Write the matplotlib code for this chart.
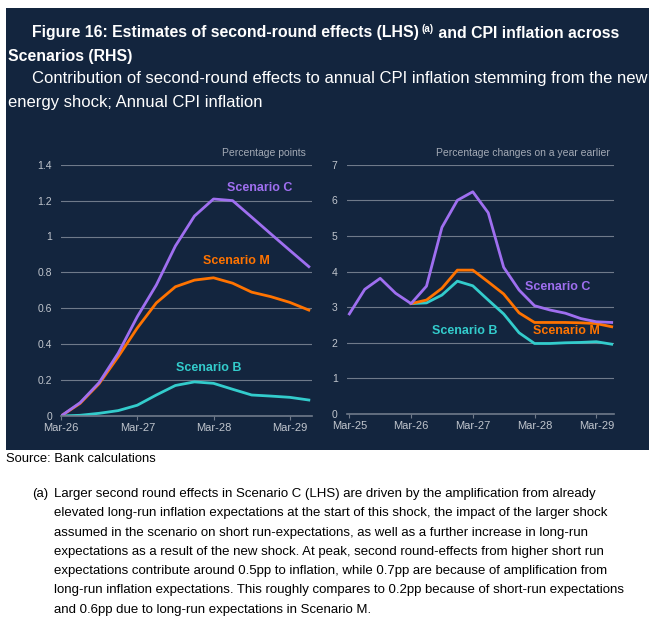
import numpy as np
import matplotlib
matplotlib.use('Agg')
from matplotlib import pyplot as plt
from matplotlib.patches import Rectangle

plt.rcParams['font.family'] = ['Liberation Sans', 'DejaVu Sans']

# LHS: contribution of second-round effects (pp), quarterly from Mar-26
lhs_ticklabels = ['Mar-26', 'Mar-27', 'Mar-28', 'Mar-29']
lhs_c = [0.0, 0.074, 0.186, 0.35, 0.553, 0.73, 0.947, 1.114, 1.209, 1.2, 1.108, 1.015, 0.923, 0.832]
lhs_m = [0.0, 0.07, 0.18, 0.33, 0.49, 0.63, 0.72, 0.757, 0.77, 0.74, 0.69, 0.665, 0.633, 0.59]
lhs_b = [0.0, 0.004, 0.015, 0.03, 0.06, 0.117, 0.17, 0.19, 0.182, 0.149, 0.117, 0.111, 0.104, 0.089]

# RHS: annual CPI inflation (%), quarterly from Mar-25
rhs_ticklabels = ['Mar-25', 'Mar-26', 'Mar-27', 'Mar-28', 'Mar-29']
rhs_c = [2.81, 3.5, 3.81, 3.39, 3.1, 3.59, 5.24, 6.0, 6.24, 5.65, 4.12, 3.48, 3.04, 2.92, 2.83, 2.68, 2.59, 2.57]
rhs_m = [np.nan]*4 + [3.1, 3.2, 3.53, 4.04, 4.04, 3.71, 3.37, 2.84, 2.57, 2.57, 2.57, 2.56, 2.54, 2.45]
rhs_b = [np.nan]*4 + [3.1, 3.12, 3.34, 3.73, 3.6, 3.2, 2.81, 2.28, 1.98, 1.98, 2.0, 2.01, 2.03, 1.96]

navy = '#13253e'
col_c = '#9f6ff0'
col_m = '#ff7300'
col_b = '#33cccc'
gridcol = '#6f7a8a'
tickcol = '#c0c5cd'
unitcol = '#a3aab5'

W, H = 649, 626
fig = plt.figure(figsize=(W/100, H/100), dpi=100)
fig.patch.set_facecolor('white')
fig.patches.append(Rectangle((6/W, 1-450/H), 1-6/W, 442/H, transform=fig.transFigure,
                             facecolor=navy, edgecolor='none', zorder=-5))

def style(ax, ymax, ystep, yfmt):
    ax.set_facecolor('none')
    for s in ['top', 'right', 'left']:
        ax.spines[s].set_visible(False)
    ax.spines['bottom'].set_color(gridcol)
    ax.spines['bottom'].set_linewidth(1.2)
    ax.set_ylim(0, ymax)
    yt = np.arange(0, ymax + ystep/2, ystep)
    ax.set_yticks(yt)
    ax.set_yticklabels([yfmt(v) for v in yt])
    ax.yaxis.grid(True, color=gridcol, linewidth=0.8)
    ax.set_axisbelow(True)
    ax.tick_params(axis='y', length=0, pad=6.5, colors=tickcol, labelsize=7.5)
    ax.tick_params(axis='x', length=3, width=0.8, color=gridcol, colors=tickcol, labelsize=8, pad=2)

# left panel
ax1 = fig.add_axes([61/W, 1-416/H, 250.7/W, 251.3/H])
x1 = np.arange(len(lhs_c))
ax1.plot(x1, lhs_b, color=col_b, lw=2)
ax1.plot(x1, lhs_m, color=col_m, lw=2)
ax1.plot(x1, lhs_c, color=col_c, lw=2)
style(ax1, 1.4, 0.2, lambda v: '0' if v == 0 else ('1' if abs(v-1) < 1e-9 else '%.1f' % v))
ax1.set_xlim(0, 13.15)
ax1.set_xticks(np.arange(0, 13, 4))
ax1.set_xticklabels(lhs_ticklabels)
ax1.text(0.975, 1.025, 'Percentage points', transform=ax1.transAxes, ha='right', va='bottom',
         fontsize=7.5, color=unitcol)
ax1.text(10.4, 1.27, 'Scenario C', color=col_c, fontsize=9, fontweight='bold', ha='center', va='center')
ax1.text(9.18, 0.863, 'Scenario M', color=col_m, fontsize=9, fontweight='bold', ha='center', va='center')
ax1.text(7.76, 0.267, 'Scenario B', color=col_b, fontsize=9, fontweight='bold', ha='center', va='center')

# right panel
ax2 = fig.add_axes([346.7/W, 1-414/H, 267.3/W, 249.3/H])
x2 = np.arange(len(rhs_c))
ax2.plot(x2, rhs_b, color=col_b, lw=2)
ax2.plot(x2, rhs_m, color=col_m, lw=2)
ax2.plot(x2, rhs_c, color=col_c, lw=2)
style(ax2, 7, 1, lambda v: '%d' % v)
ax2.set_xlim(-0.17, 17.15)
ax2.set_xticks(np.arange(0, 17, 4))
ax2.set_xticklabels(rhs_ticklabels)
ax2.text(0.985, 1.025, 'Percentage changes on a year earlier', transform=ax2.transAxes, ha='right',
         va='bottom', fontsize=7.5, color=unitcol)
ax2.text(13.5, 3.56, 'Scenario C', color=col_c, fontsize=9, fontweight='bold', ha='center', va='center')
ax2.text(14.1, 2.33, 'Scenario M', color=col_m, fontsize=9, fontweight='bold', ha='center', va='center')
ax2.text(7.5, 2.33, 'Scenario B', color=col_b, fontsize=9, fontweight='bold', ha='center', va='center')

# title, with superscript (a)
fig.canvas.draw()
r = fig.canvas.get_renderer()
tsize = 11.4
ssize = 12
t1 = fig.text(32/W, 1-33/H, 'Figure 16: Estimates of second-round effects (LHS)', color='white',
              fontsize=tsize, fontweight='bold', va='center')
bb = t1.get_window_extent(r)
t2 = fig.text(bb.x1/W + 3/W, 1-29/H, '(a)', color='white', fontsize=7, fontweight='bold', va='center')
bb2 = t2.get_window_extent(r)
fig.text(bb2.x1/W, 1-33/H, ' and CPI inflation across', color='white', fontsize=tsize,
         fontweight='bold', va='center')
fig.text(8/W, 1-56/H, 'Scenarios (RHS)', color='white', fontsize=tsize, fontweight='bold', va='center')
fig.text(32/W, 1-79/H, 'Contribution of second-round effects to annual CPI inflation stemming from the new',
         color='white', fontsize=ssize, va='center')
fig.text(8/W, 1-102/H, 'energy shock; Annual CPI inflation', color='white', fontsize=ssize, va='center')

# source and footnote
fig.text(6/W, 1-459/H, 'Source: Bank calculations', color='black', fontsize=9.4, va='center')
note = ['Larger second round effects in Scenario C (LHS) are driven by the amplification from already',
        'elevated long-run inflation expectations at the start of this shock, the impact of the larger shock',
        'assumed in the scenario on short run-expectations, as well as a further increase in long-run',
        'expectations as a result of the new shock. At peak, second round-effects from higher short run',
        'expectations contribute around 0.5pp to inflation, while 0.7pp are because of amplification from',
        'long-run inflation expectations. This roughly compares to 0.2pp because of short-run expectations',
        'and 0.6pp due to long-run expectations in Scenario M.']
fig.text(32/W, 1-494/H, '(a)', color='black', fontsize=9.5, va='center')
for i, line in enumerate(note):
    fig.text(54/W, 1-(494+19.3*i)/H, line, color='black', fontsize=9.5, va='center')

fig.savefig('out.png', dpi=100)
